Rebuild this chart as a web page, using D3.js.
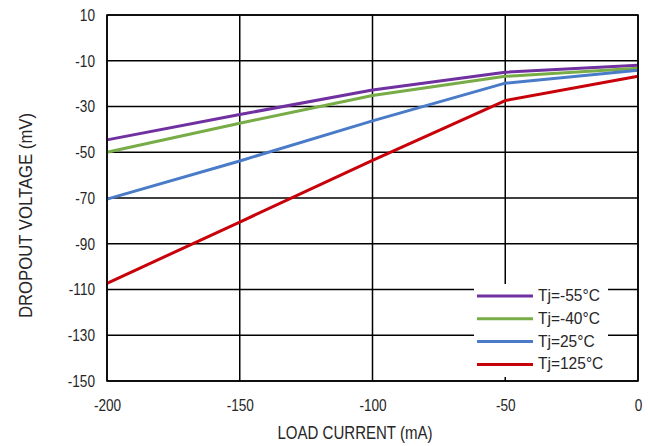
<!DOCTYPE html>
<html><head><meta charset="utf-8">
<script src="https://cdn.jsdelivr.net/npm/d3@7"></script>
<style>
body{margin:0;background:#fff;}
text{font-family:"Liberation Sans",Arial,sans-serif;fill:#262626;}
</style></head>
<body><svg id="c" width="648" height="446"></svg>
<script>
const loadCurrent = [-200, -150, -100, -50, 0];
const tjM55 = [-44.6, -33.5, -22.8, -15.0, -12.0];
const tjM40 = [-50.0, -37.3, -25.2, -16.8, -13.3];
const tj25  = [-70.5, -53.8, -36.3, -19.8, -14.2];
const tj125 = [-107.3, -80.5, -53.6, -27.4, -16.8];
const seriesNames = ["Tj=-55°C", "Tj=-40°C", "Tj=25°C", "Tj=125°C"];
const seriesColors = ["#7030A0", "#77AC47", "#4A7BC8", "#C8000A"];
const xTicks = [-200, -150, -100, -50, 0];
const yTicks = [10, -10, -30, -50, -70, -90, -110, -130, -150];

const series = [tjM55, tjM40, tj25, tj125];
const svg = d3.select("#c");
const L = 107, R = 638, T = 15, B = 381;
const x = d3.scaleLinear().domain([-200, 0]).range([L, R]);
const y = d3.scaleLinear().domain([-150, 10]).range([B, T]);

function squeeze(sel, f) {
  sel.each(function () {
    const w = this.getComputedTextLength();
    d3.select(this).attr("textLength", w * f).attr("lengthAdjust", "spacingAndGlyphs");
  });
}

// gridlines
const g = svg.append("g");
g.selectAll(".vg").data(xTicks).join("line")
  .attr("x1", d => x(d)).attr("x2", d => x(d)).attr("y1", T).attr("y2", B)
  .attr("stroke", "#000").attr("stroke-width", 1.5);
g.selectAll(".hg").data(yTicks).join("line")
  .attr("x1", L).attr("x2", R).attr("y1", d => y(d)).attr("y2", d => y(d))
  .attr("stroke", "#000").attr("stroke-width", 1.5);

// axes labels
const xAxis = d3.axisBottom(x).tickValues(xTicks).tickSize(0).tickPadding(18).tickFormat(d => String(d));
const xa = svg.append("g").attr("transform", `translate(0,${B})`).call(xAxis);
xa.select(".domain").remove();
xa.selectAll("text").style("font-size", "17px").style("font-family", "Liberation Sans, Arial, sans-serif").attr("fill", "#262626");
squeeze(xa.selectAll("text"), 0.8);
const yAxis = d3.axisLeft(y).tickValues(yTicks).tickSize(0).tickPadding(12).tickFormat(d => String(d));
const ya = svg.append("g").attr("transform", `translate(${L},0)`).call(yAxis);
ya.select(".domain").remove();
ya.selectAll("text").style("font-size", "17px").style("font-family", "Liberation Sans, Arial, sans-serif").attr("fill", "#262626");
squeeze(ya.selectAll("text"), 0.8);

// lines
const line = d3.line().x((d, i) => x(loadCurrent[i])).y(d => y(d));
svg.append("g").selectAll("path").data(series).join("path")
  .attr("d", d => line(d)).attr("fill", "none")
  .attr("stroke", (d, i) => seriesColors[i]).attr("stroke-width", 3)
  .attr("stroke-linejoin", "round");

// border
svg.append("rect").attr("x", L).attr("y", T).attr("width", R - L).attr("height", B - T)
  .attr("fill", "none").attr("stroke", "#000").attr("stroke-width", 1.5);

// legend
const lg = svg.append("g");
lg.append("rect").attr("x", 474).attr("y", 284).attr("width", 134).attr("height", 93).attr("fill", "#fff");
const rows = lg.selectAll("g").data(seriesNames).join("g")
  .attr("transform", (d, i) => `translate(477,${296 + i * 22.8})`);
rows.append("line").attr("x1", 0).attr("x2", 56).attr("y1", 0).attr("y2", 0)
  .attr("stroke", (d, i) => seriesColors[i]).attr("stroke-width", 3);
const lt = rows.append("text").attr("x", 61).attr("y", 5).style("font-size", "16px").text(d => d);
squeeze(lt, 0.97);

// titles
const xt = svg.append("text").attr("x", 355).attr("y", 439).attr("text-anchor", "middle")
  .style("font-size", "18px").text("LOAD CURRENT (mA)");
xt.attr("textLength", 155).attr("lengthAdjust", "spacingAndGlyphs");
const yt = svg.append("text").attr("transform", "translate(32,215.5) rotate(-90)").attr("text-anchor", "middle")
  .style("font-size", "18px").text("DROPOUT VOLTAGE (mV)");
yt.attr("textLength", 205).attr("lengthAdjust", "spacingAndGlyphs");
</script></body></html>
